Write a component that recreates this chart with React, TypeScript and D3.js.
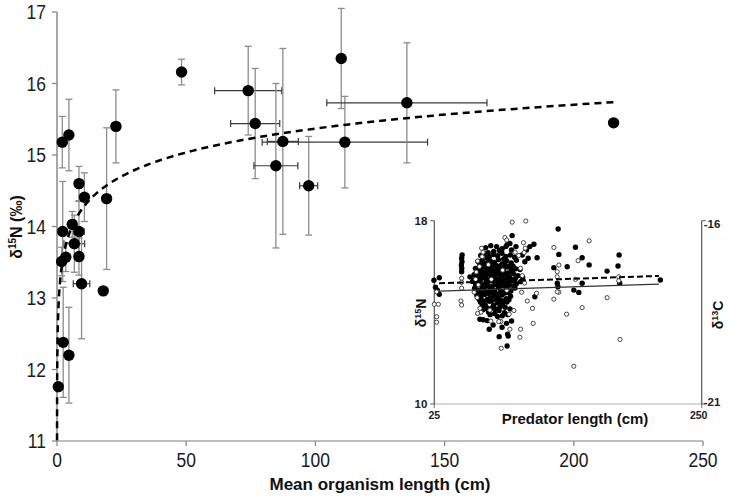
import React from "react";
import * as d3 from "d3";

const W = 731;
const H = 497;

// ---------- main chart data ----------
const organismLength = [0.5, 2.05, 4.6, 22.8, 48.2, 19.2, 8.5, 10.6, 2.2, 5.9, 8.5, 6.7, 1.8, 3.4, 8.5, 9.5, 17.9, 2.4, 4.6, 74, 76.7, 87.4, 84.7, 97.4, 110, 111.4, 135.4, 215.4];
const d15N = [11.76, 15.18, 15.28, 15.4, 16.16, 14.39, 14.6, 14.41, 13.93, 14.03, 13.93, 13.76, 13.51, 13.57, 13.58, 13.2, 13.1, 12.38, 12.2, 15.9, 15.44, 15.19, 14.85, 14.57, 16.35, 15.18, 15.73, 15.45];
const d15NErr = [0, 0.36, 0.5, 0.51, 0.18, 0.99, 0.24, 0.34, 0.7, 0.18, 0.42, 0.4, 0.2, 0.2, 0.26, 0.77, 0, 0.77, 0.67, 0.62, 0.77, 1.3, 1.15, 0.69, 0.7, 0.64, 0.84, 0];
const lengthErr = [0, 0, 0, 0, 0, 1.2, 0, 0, 0, 0, 2, 4, 0, 0, 0, 3.2, 0, 0, 0, 13, 9.5, 6, 8.5, 3.5, 0, 32, 31, 0];
const fitIntercept = 13.15;
const fitSlope = 0.482;
const fitRange = [0.0118, 215.4];
const xTicks = [0, 50, 100, 150, 200, 250];
const yTicks = [11, 12, 13, 14, 15, 16, 17];

// ---------- inset data ----------
// filled circles: [predator length, d15N]
const insetFilled: [number, number][] = [
  [24.7, 15.4], [29.2, 15.51], [27.5, 14.97], [29.2, 14.79], [26, 15.1],
  [48, 16.36], [48.3, 16.21], [47.8, 16.07], [48.1, 15.92], [48, 15.77], [48.4, 16.5],
  [55, 15.55], [57.8, 15.41],
  [68.2, 16.82], [72.5, 16.91], [77.4, 16.87], [82.1, 16.78], [86.3, 16.95], [75.0, 16.66], [79.8, 16.7], [70.3, 16.6],
  [64.1, 16.48], [67.5, 16.55], [71.2, 16.43], [74.6, 16.52], [78.3, 16.47], [81.9, 16.58], [85.2, 16.44], [89.0, 16.5], [92.6, 16.41], [69.4, 16.36], [83.4, 16.33],
  [61.8, 16.22], [65.3, 16.28], [68.7, 16.15], [72.0, 16.25], [75.5, 16.18], [78.9, 16.3], [82.4, 16.12], [86.0, 16.24], [89.7, 16.16], [94.1, 16.27], [63.4, 16.08], [76.9, 16.05], [91.2, 16.02],
  [59.6, 15.92], [62.9, 15.85], [66.2, 15.97], [69.8, 15.88], [73.1, 15.95], [76.4, 15.82], [79.7, 15.93], [83.0, 15.86], [86.5, 15.98], [89.9, 15.83], [93.4, 15.9], [97.1, 15.87], [71.6, 15.78], [81.2, 15.76], [66.9, 15.74],
  [58.5, 15.64], [61.7, 15.58], [64.8, 15.69], [68.3, 15.55], [71.4, 15.66], [74.8, 15.6], [78.1, 15.7], [81.5, 15.57], [84.9, 15.65], [88.2, 15.53], [91.6, 15.68], [95.3, 15.6], [99.4, 15.52], [76.2, 15.5], [86.8, 15.46],
  [57.2, 15.35], [60.4, 15.28], [63.6, 15.4], [66.9, 15.24], [70.1, 15.33], [73.5, 15.39], [76.8, 15.26], [80.2, 15.36], [83.6, 15.22], [87.1, 15.31], [90.5, 15.38], [94.0, 15.25], [97.6, 15.34], [68.6, 15.14], [79.0, 15.12],
  [58.9, 15.05], [62.2, 14.96], [65.5, 15.08], [68.9, 14.92], [72.3, 15.02], [75.7, 14.95], [79.2, 15.07], [82.6, 14.9], [86.0, 15.0], [89.4, 14.93], [92.9, 15.06], [84.4, 14.84], [71.0, 14.82],
  [60.8, 14.74], [64.2, 14.66], [67.6, 14.78], [71.9, 14.62], [75.1, 14.72], [78.6, 14.65], [82.0, 14.76], [85.6, 14.6], [89.2, 14.7], [77.0, 14.55],
  [63.9, 14.44], [67.8, 14.35], [71.5, 14.48], [74.9, 14.31], [78.4, 14.42], [82.3, 14.38], [86.1, 14.45], [80.3, 14.24], [73.2, 14.18],
  [66.3, 14.12], [70.6, 14.02], [75.8, 13.95], [79.5, 14.08], [84.0, 13.98], [88.7, 14.15], [82.2, 13.85],
  [63.0, 16.0], [66.7, 16.1], [70.2, 16.02], [73.8, 16.08], [77.6, 16.0], [80.6, 16.04], [84.3, 16.06], [87.8, 16.0],
  [60.5, 15.75], [64.0, 15.8], [67.9, 15.72], [70.9, 15.83], [74.2, 15.74], [77.9, 15.8], [80.4, 15.69], [83.8, 15.75], [87.3, 15.72], [90.7, 15.77],
  [62.1, 15.45], [65.6, 15.5], [69.0, 15.43], [72.6, 15.48], [75.9, 15.4], [79.6, 15.47], [82.9, 15.42], [86.2, 15.49], [89.6, 15.44], [93.1, 15.47],
  [59.8, 15.17], [63.1, 15.2], [66.4, 15.12], [70.0, 15.19], [73.9, 15.15], [77.3, 15.2], [81.1, 15.17], [84.8, 15.13], [88.3, 15.18], [91.8, 15.15],
  [61.2, 14.88], [64.6, 14.85], [67.3, 14.9], [74.0, 14.86], [77.9, 14.8], [81.0, 14.93], [87.7, 14.86],
  [62.9, 14.55], [66.0, 14.5], [69.6, 14.56], [73.3, 14.52], [80.8, 14.53], [84.1, 14.5], [87.8, 14.55],
  [65.2, 14.25], [69.0, 14.2], [76.6, 14.15], [84.6, 14.22], [71.9, 13.9], [78.2, 13.82], [86.8, 13.9],
  [63.4, 13.7], [66.2, 13.68], [69.5, 13.64], [71.2, 13.26], [79.6, 12.94], [86.7, 13.05], [87.2, 12.97], [86.3, 12.53], [85.8, 13.52], [90, 13.62], [74.5, 13.45], [82, 13.35],
  [129.2, 17.64], [90.5, 17.35], [85.3, 16.87], [88.6, 17.01], [93.7, 16.87], [90, 16.72],
  [102.6, 16.72], [105.4, 16.87], [108.8, 16.97], [104, 16.36], [101.2, 16.21], [111.5, 16.38], [99, 16.5],
  [125.6, 15.95], [128.5, 15.27], [129, 15.12], [109.6, 14.68], [143.8, 16.84], [129.8, 16.53], [149.4, 16.38],
  [136.8, 15.99], [155.3, 16.07], [180.5, 16.5], [179.6, 16.02], [170.4, 15.8], [181, 15.27], [149.4, 15.27],
  [142.4, 14.97], [146.6, 14.87], [215.2, 15.41],
];
// open circles: [predator length, d13C]
const insetOpen: [number, number][] = [
  [90.5, -16.04], [102, -16.01], [125.6, -16.73], [155.3, -16.55], [146, -17.09], [129.8, -17.21], [128.4, -17.39],
  [143.8, -17.6], [128.4, -17.53], [180.2, -17.53], [180.2, -17.64], [129.8, -17.95], [125.6, -18.14], [170.4, -18.1],
  [149.4, -18.37], [136.3, -18.55], [108.2, -18.8], [97.6, -18.96], [97, -19.18], [81.3, -19.48], [88.6, -18.96],
  [181.3, -19.24], [142.4, -19.97], [111, -17.98], [128.4, -17.94],
  [25, -18.28], [28.4, -18.28], [27, -18.62], [27, -18.77], [27, -17.94], [48, -17.57], [48, -17.68], [48, -17.84], [47.4, -18.19], [48, -18.3],
  [64.8, -16.75], [66.0, -16.86], [65.2, -16.98], [61.5, -17.1], [63.0, -17.25], [60.3, -17.4], [59.8, -17.6], [62.0, -17.75], [58.5, -17.95], [61.0, -18.1],
  [84.4, -16.46], [85.9, -16.53], [100.0, -16.6], [101.5, -16.75], [93.0, -16.86], [100.6, -16.87], [96.0, -16.95],
  [97.5, -17.3], [99.0, -17.5], [101.0, -17.7], [98.5, -17.95], [103.2, -18.19], [107.6, -18.39],
  [63.4, -18.39], [64.2, -18.5], [71.8, -18.44], [61.4, -18.53], [72.6, -18.74], [81.0, -18.75], [79.3, -18.75], [88.0, -18.55], [92.0, -18.45],
  [70.5, -17.2], [82.5, -17.35], [73.0, -17.6], [86.0, -17.9],
];
const insetFitLength = [29, 214];
const insetFitN = [15.27, 15.59];
const insetFitC = [-17.92, -17.73];

const FONT = "'Liberation Sans', Arial, sans-serif";

export default function App() {
  // main scales
  const x = d3.scaleLinear().domain([0, 250]).range([57, 703]);
  const y = d3.scaleLinear().domain([11, 17]).range([441, 12]);

  const fitXs: number[] = [];
  const lo = Math.log(fitRange[0]);
  const hi = Math.log(fitRange[1]);
  for (let i = 0; i <= 300; i++) fitXs.push(Math.exp(lo + ((hi - lo) * i) / 300));
  const fitLine = d3
    .line<number>()
    .x((v) => x(v))
    .y((v) => y(fitIntercept + fitSlope * Math.log(v)))(fitXs);

  // inset scales
  const ix = d3.scaleLinear().domain([25, 250]).range([434.3, 701.7]);
  const iyN = d3.scaleLinear().domain([10, 18]).range([404, 220.7]);
  const iyC = d3.scaleLinear().domain([-21, -16]).range([404, 220.7]);

  const cap = 3.5;

  return (
    <svg width={W} height={H} style={{ position: "absolute", left: 0, top: 0, background: "#fff" }} fontFamily={FONT}>
      <rect x={0} y={0} width={W} height={H} fill="#fff" />
      {/* main axes */}
      <line x1={x(0)} x2={x(250)} y1={y(11)} y2={y(11)} stroke="#a8a8a8" strokeWidth={1.5} />
      <line x1={x(0)} x2={x(0)} y1={y(11)} y2={y(17)} stroke="#8a8a8a" strokeWidth={1.5} />
      {yTicks.map((t) => (
        <g key={"yt" + t}>
          <line x1={x(0) - 5} x2={x(0)} y1={y(t)} y2={y(t)} stroke="#8a8a8a" strokeWidth={1.3} />
          <text transform={`translate(${x(0) - 11},${y(t) + 7}) scale(1,1.15)`} textAnchor="end" fontSize={17.5} fill="#1a1a1a">{t}</text>
        </g>
      ))}
      {xTicks.map((t) => (
        <g key={"xt" + t}>
          <line x1={x(t)} x2={x(t)} y1={y(11)} y2={y(11) + 5} stroke="#8a8a8a" strokeWidth={1.3} />
          <text transform={`translate(${x(t)},467) scale(1,1.15)`} textAnchor="middle" fontSize={17.5} fill="#1a1a1a">{t}</text>
        </g>
      ))}
      <text x={380} y={490} textAnchor="middle" fontSize={17} fontWeight="bold" fill="#111">Mean organism length (cm)</text>
      <text transform="translate(22,227) rotate(-90)" textAnchor="middle" fontSize={16} fontWeight="bold" fill="#111">
        δ<tspan fontSize={10} dy={-6}>15</tspan><tspan dy={6}>N (‰)</tspan>
      </text>

      {/* error bars */}
      {organismLength.map((lv, i) => {
        const cx = x(lv);
        const cy = y(d15N[i]);
        const e = d15NErr[i];
        const h = lengthErr[i];
        return (
          <g key={"eb" + i}>
            {e > 0 && (
              <g stroke="#8c8c8c" strokeWidth={1.3}>
                <line x1={cx} x2={cx} y1={y(d15N[i] + e)} y2={y(d15N[i] - e)} />
                <line x1={cx - cap} x2={cx + cap} y1={y(d15N[i] + e)} y2={y(d15N[i] + e)} />
                <line x1={cx - cap} x2={cx + cap} y1={y(d15N[i] - e)} y2={y(d15N[i] - e)} />
              </g>
            )}
            {h > 0 && (
              <g stroke="#3a3a3a" strokeWidth={1.2}>
                <line x1={x(lv - h)} x2={x(lv + h)} y1={cy} y2={cy} />
                <line x1={x(lv - h)} x2={x(lv - h)} y1={cy - cap} y2={cy + cap} />
                <line x1={x(lv + h)} x2={x(lv + h)} y1={cy - cap} y2={cy + cap} />
              </g>
            )}
          </g>
        );
      })}
      <path d={fitLine || ""} fill="none" stroke="#000" strokeWidth={2.5} strokeDasharray="7,5" />
      {organismLength.map((lv, i) => (
        <circle key={"p" + i} cx={x(lv)} cy={y(d15N[i])} r={5.7} fill="#000" />
      ))}

      {/* inset */}
      <g>
        <line x1={ix(25)} x2={ix(250)} y1={404} y2={404} stroke="#b0b0b0" strokeWidth={1.2} />
        <line x1={ix(25)} x2={ix(25)} y1={iyN(10)} y2={iyN(18)} stroke="#555" strokeWidth={1.2} />
        <line x1={ix(250)} x2={ix(250)} y1={iyC(-21)} y2={iyC(-16)} stroke="#555" strokeWidth={1.2} />
        {[10, 18].map((t) => (
          <g key={"iyn" + t}>
            <line x1={ix(25) - 4} x2={ix(25)} y1={iyN(t)} y2={iyN(t)} stroke="#555" />
            <text x={ix(25) - 7} y={iyN(t) + 4} textAnchor="end" fontSize={11.5} fontWeight="bold" fill="#222">{t}</text>
          </g>
        ))}
        {[-21, -16].map((t) => (
          <g key={"iyc" + t}>
            <line x1={ix(250)} x2={ix(250) + 4} y1={iyC(t)} y2={iyC(t)} stroke="#555" />
            <text x={ix(250) + 2} y={iyC(t) + (t === -16 ? 7 : 2)} textAnchor="start" fontSize={11.5} fontWeight="bold" fill="#222">{t}</text>
          </g>
        ))}
        {[25, 250].map((t) => (
          <g key={"ixt" + t}>
            <line x1={ix(t)} x2={ix(t)} y1={404} y2={408} stroke="#777" />
            <text x={ix(t) - (t === 250 ? 3 : 0)} y={419} textAnchor="middle" fontSize={10.5} fontWeight="bold" fill="#222">{t}</text>
          </g>
        ))}
        <text x={575} y={424} textAnchor="middle" fontSize={15} fontWeight="bold" fill="#111">Predator length (cm)</text>
        <text transform="translate(426,313) rotate(-90)" textAnchor="middle" fontSize={14} fontWeight="bold" fill="#111">
          δ<tspan fontSize={9} dy={-5}>15</tspan><tspan dy={5}>N</tspan>
        </text>
        <text transform="translate(723,315) rotate(-90)" textAnchor="middle" fontSize={14} fontWeight="bold" fill="#111">
          δ<tspan fontSize={9} dy={-5}>13</tspan><tspan dy={5}>C</tspan>
        </text>
        {insetFilled.map((p, i) => (
          <circle key={"if" + i} cx={ix(p[0])} cy={iyN(p[1])} r={2.7} fill="#000" />
        ))}
        {insetOpen.map((p, i) => (
          <circle key={"io" + i} cx={ix(p[0])} cy={iyC(p[1])} r={2.1} fill="#fff" stroke="#333" strokeWidth={0.9} />
        ))}
        <line x1={ix(insetFitLength[0])} x2={ix(insetFitLength[1])} y1={iyN(insetFitN[0])} y2={iyN(insetFitN[1])} stroke="#000" strokeWidth={2} strokeDasharray="6,3" />
        <line x1={ix(insetFitLength[0])} x2={ix(insetFitLength[1])} y1={iyC(insetFitC[0])} y2={iyC(insetFitC[1])} stroke="#333" strokeWidth={1.2} />
      </g>
    </svg>
  );
}
